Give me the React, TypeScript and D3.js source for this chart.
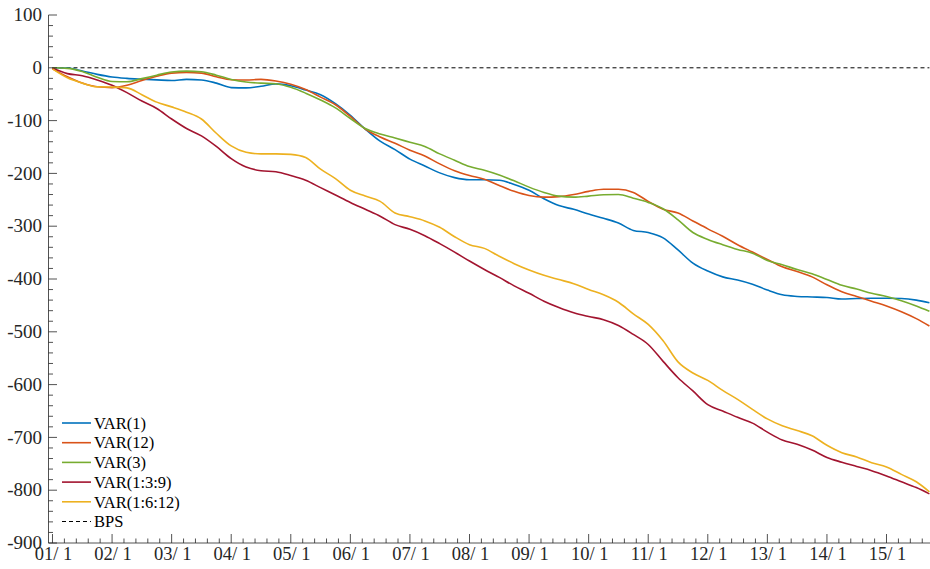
import React from "react";
import * as d3 from "d3";

const months = [
  0, 0.25, 0.5, 0.75, 1, 1.25, 1.5, 1.75, 2, 2.25, 2.5, 2.75, 3, 3.25, 3.5, 3.75,
  4, 4.25, 4.5, 4.75, 5, 5.25, 5.5, 5.75, 6, 6.25, 6.5, 6.75, 7, 7.25, 7.5, 7.75,
  8, 8.25, 8.5, 8.75, 9, 9.25, 9.5, 9.75, 10, 10.25, 10.5, 10.75, 11, 11.25, 11.5, 11.75,
  12, 12.25, 12.5, 12.75, 13, 13.25, 13.5, 13.75, 14, 14.25, 14.5, 14.72,
];

const var1 = [
  0, -0.5, -6, -12.5, -17.5, -20, -21.5, -22.8, -24, -22, -23, -29, -37.5, -38, -35, -30.5,
  -34, -42, -51, -68, -90, -116, -139, -155, -173, -186, -199, -208, -212, -212, -213, -221,
  -232, -248, -261, -268, -277, -285, -294, -308, -312, -322, -345, -370, -385, -396, -402, -410,
  -421, -430, -433, -434, -435, -438, -437, -436.5, -436.5, -437, -440, -445,
];

const var12 = [
  -2, -17, -29, -36, -37.5, -33, -24, -16, -10, -8.8, -10, -17, -22.5, -23, -22, -25,
  -31, -41, -55.5, -70, -92, -116, -131, -143, -156, -167, -182, -195, -204, -211, -223, -234,
  -242, -245, -244, -240, -234, -230, -230, -236, -253, -268, -275, -290, -305, -319, -335, -349,
  -363, -377, -386, -396, -411, -424, -433, -442, -451, -462, -475, -489,
];

const var3 = [
  0, -1, -7, -18, -26, -26.5, -20.5, -14, -8, -6.3, -7.5, -14, -22, -27, -29, -30.3,
  -37, -48, -61, -76, -96, -115, -125.5, -133, -141, -149, -163, -175, -187, -194, -203, -214,
  -226, -236, -243, -245, -243, -240.5, -240, -247, -255, -267, -288, -312, -325, -335, -344, -351,
  -365, -373, -382, -390, -401, -412, -419, -427, -433, -441, -451, -461,
];

const var139 = [
  -1, -11, -15, -23, -33, -47, -63, -77, -97, -115, -129, -149, -172, -188, -195, -197,
  -204, -213, -227, -241, -255, -268, -281, -297, -306, -318, -333, -349, -366, -382, -397, -413,
  -427, -442, -454, -464, -471, -477, -488, -505, -524, -556, -587, -612, -638, -650, -662, -673,
  -690, -705, -713, -724, -738, -747, -755, -763, -773, -784, -795, -807,
];

const var1612 = [
  -2, -19, -29, -36, -36.5, -38, -51, -65, -74, -84, -97, -124, -148, -160, -163, -163,
  -164, -170, -192, -210, -232, -243, -253, -275, -282, -290, -302, -320, -335, -342, -357, -371,
  -383, -393, -401, -409, -420, -430, -444, -466, -486, -517, -557, -578, -592, -611, -628, -647,
  -665, -678, -687, -697, -715, -729, -737, -748, -756, -770, -784, -803,
];

const seriesNames = ["VAR(1)", "VAR(12)", "VAR(3)", "VAR(1:3:9)", "VAR(1:6:12)"];
const seriesColors = ["#0072BD", "#D95319", "#77AC30", "#A2142F", "#EDB120"];
const seriesValues = [var1, var12, var3, var139, var1612];

const xTickLabels = [
  "01/ 1", "02/ 1", "03/ 1", "04/ 1", "05/ 1", "06/ 1", "07/ 1", "08/ 1",
  "09/ 1", "10/ 1", "11/ 1", "12/ 1", "13/ 1", "14/ 1", "15/ 1",
];
const yTicks = [100, 0, -100, -200, -300, -400, -500, -600, -700, -800, -900];

const W = 930;
const H = 569;
const FONT = "'Liberation Serif', 'Times New Roman', serif";
const AX = "#262626";

export default function App() {
  const x = d3.scaleLinear().domain([-0.067, 14.73]).range([48.5, 930]);
  const y = d3.scaleLinear().domain([-900, 100]).range([543, 15]);

  const line = d3
    .line<number>()
    .x((_, i) => x(months[i]))
    .y((v) => y(v))
    .curve(d3.curveMonotoneX);

  const xMinor: number[] = [];
  for (let m = 0; m <= 14.73; m += 0.2) {
    if (Math.abs(m - Math.round(m)) > 0.01) xMinor.push(m);
  }
  const yMinor: number[] = [];
  for (let v = -900; v <= 100; v += 20) {
    if (v % 100 !== 0) yMinor.push(v);
  }

  const legendY0 = 423;
  const legendDy = 19.7;

  return (
    <svg
      width={W}
      height={H}
      style={{ position: "absolute", left: 0, top: 0, background: "#fff" }}
    >
      <rect x={0} y={0} width={W} height={H} fill="#fff" />
      <line
        x1={x(months[0])}
        x2={x(months[months.length - 1])}
        y1={y(0)}
        y2={y(0)}
        stroke="#000"
        strokeWidth={1}
        strokeDasharray="4,3"
      />
      {seriesValues.map((vals, i) => (
        <path
          key={seriesNames[i]}
          d={line(vals) || ""}
          fill="none"
          stroke={seriesColors[i]}
          strokeWidth={1.6}
          strokeLinejoin="round"
        />
      ))}

      <line x1={48.5} x2={48.5} y1={y(100)} y2={y(-900)} stroke={AX} strokeWidth={0.8} />
      <line x1={48.5} x2={930} y1={y(-900)} y2={y(-900)} stroke={AX} strokeWidth={0.8} />
      {yTicks.map((t) => (
        <g key={"yt" + t}>
          <line x1={48.5} x2={57} y1={y(t)} y2={y(t)} stroke={AX} strokeWidth={0.8} />
          <text
            x={42}
            y={y(t)}
            dy="0.33em"
            textAnchor="end"
            fontFamily={FONT}
            fontSize={19}
            fill={AX}
          >
            {t}
          </text>
        </g>
      ))}
      {yMinor.map((t) => (
        <line key={"ym" + t} x1={48.5} x2={53} y1={y(t)} y2={y(t)} stroke={AX} strokeWidth={0.8} />
      ))}
      {xTickLabels.map((lab, i) => (
        <g key={"xt" + i}>
          <line x1={x(i)} x2={x(i)} y1={y(-900)} y2={y(-900) - 9} stroke={AX} strokeWidth={0.8} />
          <text
            x={x(i) + 1}
            y={560}
            textAnchor="middle"
            fontFamily={FONT}
            fontSize={18.5}
            fill={AX}
          >
            {lab}
          </text>
        </g>
      ))}
      {xMinor.map((m, i) => (
        <line
          key={"xm" + i}
          x1={x(m)}
          x2={x(m)}
          y1={y(-900)}
          y2={y(-900) - 4.5}
          stroke={AX}
          strokeWidth={0.8}
        />
      ))}

      {seriesNames.map((name, i) => (
        <g key={"lg" + name}>
          <line
            x1={62}
            x2={91}
            y1={legendY0 + i * legendDy}
            y2={legendY0 + i * legendDy}
            stroke={seriesColors[i]}
            strokeWidth={1.6}
          />
          <text
            x={94}
            y={legendY0 + i * legendDy}
            dy="0.35em"
            fontFamily={FONT}
            fontSize={16.5}
            fill="#000"
          >
            {name}
          </text>
        </g>
      ))}
      <line
        x1={62}
        x2={91}
        y1={legendY0 + 5 * legendDy}
        y2={legendY0 + 5 * legendDy}
        stroke="#000"
        strokeWidth={1}
        strokeDasharray="4,3"
      />
      <text
        x={94}
        y={legendY0 + 5 * legendDy}
        dy="0.35em"
        fontFamily={FONT}
        fontSize={16.5}
        fill="#000"
      >
        BPS
      </text>
    </svg>
  );
}
